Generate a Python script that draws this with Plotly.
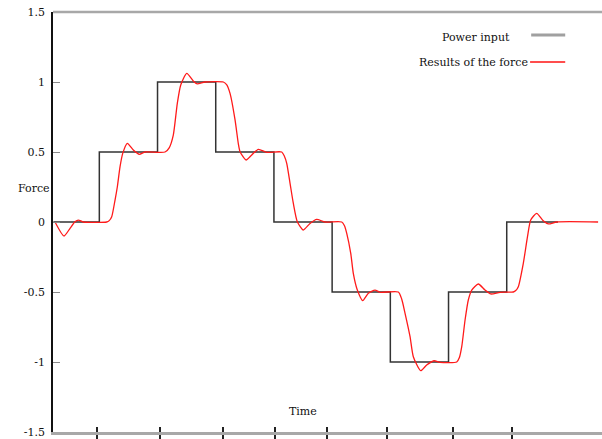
import plotly.graph_objects as go

# Commanded force: piecewise-constant input, one level per time unit
step_time = [0.21, 1, 2, 3, 4, 5, 6, 7, 8, 8.88]
step_force = [0, 0.5, 1, 0.5, 0, -0.5, -1, -0.5, 0, 0]

# Measured force response (lags each step, overshoots, then settles)
response_time = [
    0.239, 0.393, 0.497, 0.582, 0.639, 0.725, 1.127,
    1.170, 1.213, 1.270, 1.309, 1.356, 1.402, 1.481, 1.584, 1.687, 1.785, 2.129,
    2.200, 2.271, 2.340, 2.399, 2.502, 2.627, 2.684, 2.816, 3.131,
    3.190, 3.246, 3.332, 3.388, 3.418, 3.521, 3.619, 3.732, 3.876, 4.134,
    4.180, 4.220, 4.277, 4.333, 4.402, 4.505, 4.620, 4.735, 4.878, 5.165,
    5.210, 5.251, 5.320, 5.364, 5.433, 5.526, 5.622, 5.737, 5.823, 6.137,
    6.195, 6.253, 6.339, 6.395, 6.522, 6.625, 6.751, 6.854, 7.141,
    7.185, 7.227, 7.284, 7.340, 7.399, 7.512, 7.627, 7.725, 7.885, 8.113,
    8.155, 8.199, 8.285, 8.357, 8.412, 8.515, 8.627, 8.715, 8.859, 9.570,
]
response_force = [
    0.0, -0.100, -0.045, 0.002, 0.014, 0.0, 0.0,
    0.010, 0.038, 0.157, 0.250, 0.395, 0.490, 0.562, 0.514, 0.483, 0.500, 0.500,
    0.530, 0.621, 0.848, 0.979, 1.062, 1.002, 0.986, 1.000, 1.000,
    0.980, 0.919, 0.729, 0.560, 0.502, 0.443, 0.479, 0.519, 0.498, 0.500,
    0.470, 0.419, 0.276, 0.134, 0.002, -0.057, -0.010, 0.019, 0.0, 0.0,
    -0.025, -0.081, -0.224, -0.367, -0.486, -0.562, -0.509, -0.486, -0.502, -0.500,
    -0.550, -0.652, -0.819, -0.962, -1.062, -1.021, -0.991, -1.002, -1.000,
    -0.970, -0.890, -0.700, -0.557, -0.486, -0.443, -0.486, -0.514, -0.502, -0.500,
    -0.490, -0.462, -0.295, -0.105, 0.014, 0.062, 0.009, -0.014, 0.0, 0.0,
]

x_tick_positions = [0.960, 2.043, 3.120, 4.019, 4.907, 5.938, 7.072, 8.086]
y_tick_values = [-1.5, -1, -0.5, 0, 0.5, 1, 1.5]
y_tick_labels = ["-1.5", "-1", "-0.5", "0", "0.5", "1", "1.5"]

FONT = "DejaVu Serif"
TEXT = "#111111"

fig = go.Figure()
fig.add_trace(go.Scatter(
    x=step_time, y=step_force, mode="lines", name="Power input",
    line=dict(color="#333333", width=1.5, shape="hv"), showlegend=False,
))
fig.add_trace(go.Scatter(
    x=response_time, y=response_force, mode="lines", name="Results of the force",
    line=dict(color="#ff1a1a", width=1.3, shape="spline", smoothing=0.6),
    showlegend=False,
))

# Second x axis only to draw the inner half of the crossing bottom ticks
fig.add_trace(go.Scatter(x=[None], y=[None], xaxis="x2", showlegend=False))

x_range = [0.204, 9.637]
fig.update_layout(
    width=602, height=439,
    margin=dict(l=53, r=0, t=12, b=7),
    paper_bgcolor="white", plot_bgcolor="white",
    font=dict(family=FONT, size=11, color=TEXT),
    xaxis=dict(
        range=x_range, showgrid=False, zeroline=False,
        showline=True, linecolor="#a8a8a8", linewidth=2.5,
        tickvals=x_tick_positions, ticks="outside", ticklen=5,
        tickwidth=1.5, tickcolor="#222222", showticklabels=False,
    ),
    xaxis2=dict(
        range=x_range, overlaying="x", side="bottom", anchor="y",
        showgrid=False, zeroline=False, showline=False,
        tickvals=x_tick_positions, ticks="inside", ticklen=5,
        tickwidth=1.5, tickcolor="#222222", showticklabels=False,
    ),
    yaxis=dict(
        range=[-1.5, 1.5], showgrid=False, zeroline=False,
        showline=True, linecolor="#111111", linewidth=1.5,
        tickvals=y_tick_values, ticktext=y_tick_labels,
        ticks="inside", ticklen=7, tickwidth=1.2, tickcolor="#8a8a8a",
        tickfont=dict(family=FONT, size=11, color=TEXT),
        ticklabelstandoff=4,
    ),
    shapes=[
        # top frame line
        dict(type="line", xref="paper", yref="paper", x0=0, x1=1, y0=1, y1=1,
             line=dict(color="#a8a8a8", width=2.5)),
        # legend swatches
        dict(type="line", xref="paper", yref="paper", x0=0.871, x1=0.933,
             y0=0.945, y1=0.945, line=dict(color="#a0a0a0", width=3)),
        dict(type="line", xref="paper", yref="paper", x0=0.869, x1=0.933,
             y0=0.881, y1=0.881, line=dict(color="#ff4d4d", width=2)),
    ],
    annotations=[
        dict(text="Power input", xref="paper", yref="paper", x=0.836, y=0.940,
             xanchor="right", yanchor="middle", showarrow=False,
             font=dict(family=FONT, size=11, color=TEXT)),
        dict(text="Results of the force", xref="paper", yref="paper", x=0.869, y=0.879,
             xanchor="right", yanchor="middle", showarrow=False,
             font=dict(family=FONT, size=11, color=TEXT)),
        dict(text="Force", xref="paper", yref="paper", x=-0.0355, y=0.579,
             xanchor="center", yanchor="middle", showarrow=False,
             font=dict(family=FONT, size=11, color=TEXT)),
        dict(text="Time", xref="paper", yref="paper", x=0.455, y=0.05,
             xanchor="center", yanchor="middle", showarrow=False,
             font=dict(family=FONT, size=11, color=TEXT)),
    ],
)

fig.write_html("out.html")
